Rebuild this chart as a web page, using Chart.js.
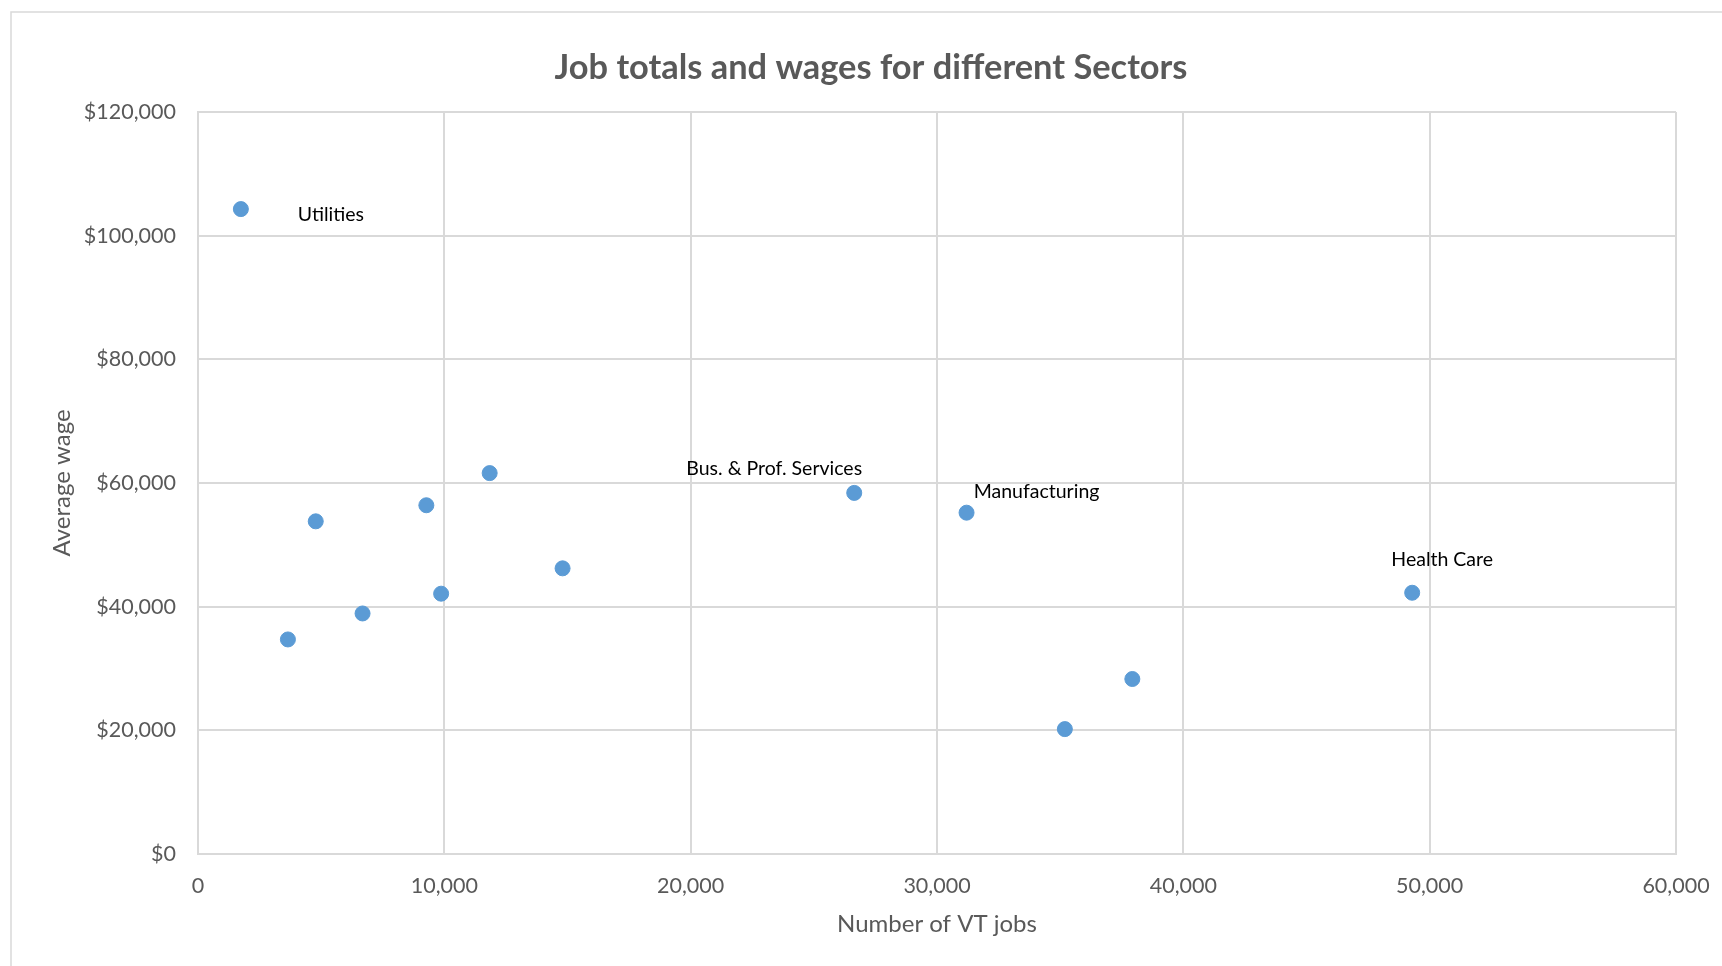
<!DOCTYPE html>
<html>
<head>
    <title>Job totals and wages for different Sectors</title>
    <script src="https://cdn.jsdelivr.net/npm/chart.js"></script>
    <style>
        body { margin: 0; background: #fff; }
        canvas { display: block; }
    </style>
</head>
<body>
    <canvas id="jobsChart" width="1722" height="966"></canvas>

    <script>
        // one point per sector
        const vtJobs = [1740, 3650, 4780, 6680, 9270, 9870, 11840, 14800, 26640, 31200, 35190, 37930, 49290];
        const avgWages = [104300, 34700, 53800, 38900, 56400, 42100, 61600, 46200, 58400, 55200, 20200, 28300, 42250];
        const sectorLabels = ['Utilities', '', '', '', '', '', '', '', 'Bus. & Prof. Services', 'Manufacturing', '', '', 'Health Care'];

        const xTicks = [0, 10000, 20000, 30000, 40000, 50000, 60000];
        const yTicks = [0, 20000, 40000, 60000, 80000, 100000, 120000];

        const chartTitle = 'Job totals and wages for different Sectors';

        const FONT = 'Lato, "Open Sans", sans-serif';
        const GREY_TEXT = '#595959';
        const GRID = '#d9d9d9';

        // where each data label sits relative to its point (Excel manual placement)
        const labelOffsets = {
            'Utilities': [90, 6],
            'Bus. & Prof. Services': [-80, -24],
            'Manufacturing': [70, -21],
            'Health Care': [30, -33]
        };

        const pointLabelPlugin = {
            id: 'pointLabels',
            afterDatasetsDraw(chart) {
                const ctx = chart.ctx;
                const meta = chart.getDatasetMeta(0);
                ctx.save();
                ctx.font = '19.5px ' + FONT;
                ctx.fillStyle = '#000';
                ctx.textAlign = 'center';
                ctx.textBaseline = 'middle';
                meta.data.forEach((pt, i) => {
                    const text = sectorLabels[i];
                    if (!text) return;
                    const off = labelOffsets[text] || [0, -20];
                    ctx.fillText(text, pt.x + off[0], pt.y + off[1]);
                });
                ctx.restore();
            }
        };

        // Excel frame round the chart area plus the title (title is not centred on the canvas)
        const framePlugin = {
            id: 'frame',
            beforeDraw(chart) {
                const ctx = chart.ctx;
                ctx.save();
                ctx.fillStyle = '#fff';
                ctx.fillRect(0, 0, chart.width, chart.height);
                ctx.strokeStyle = GRID;
                ctx.lineWidth = 1.5;
                ctx.strokeRect(11, 12, chart.width + 20, chart.height + 20);
                ctx.font = 'bold 34.4px ' + FONT;
                ctx.fillStyle = GREY_TEXT;
                ctx.textAlign = 'center';
                ctx.textBaseline = 'middle';
                ctx.fillText(chartTitle, 871, 68);
                ctx.restore();
            }
        };

        const points = vtJobs.map((x, i) => ({ x: x, y: avgWages[i] }));

        new Chart(document.getElementById('jobsChart'), {
            type: 'scatter',
            data: {
                datasets: [{
                    label: 'Sectors',
                    data: points,
                    backgroundColor: '#5b9bd5',
                    borderColor: '#5b9bd5',
                    pointRadius: 7.5,
                    pointHoverRadius: 7.5
                }]
            },
            options: {
                responsive: false,
                animation: false,
                layout: { padding: { left: 0, right: 46, top: 112, bottom: 0 } },
                plugins: {
                    legend: { display: false },
                    tooltip: { enabled: false },
                    title: { display: false }
                },
                scales: {
                    x: {
                        type: 'linear',
                        min: 0,
                        max: 60000,
                        afterBuildTicks: axis => { axis.ticks = xTicks.map(v => ({ value: v })); },
                        afterFit: axis => {
                            axis.height = 112;
                            axis.paddingLeft = 0;
                            axis.paddingRight = 0;
                        },
                        grid: { color: GRID, lineWidth: 2, drawTicks: false },
                        border: { color: GRID, width: 2 },
                        ticks: {
                            color: GREY_TEXT,
                            font: { family: FONT, size: 21.5 },
                            padding: 19,
                            maxRotation: 0,
                            callback: v => v.toLocaleString('en-US')
                        },
                        title: {
                            display: true,
                            text: 'Number of VT jobs',
                            color: GREY_TEXT,
                            font: { family: FONT, size: 24 },
                            padding: { top: 0, bottom: 27 }
                        }
                    },
                    y: {
                        type: 'linear',
                        min: 0,
                        max: 120000,
                        afterBuildTicks: axis => { axis.ticks = yTicks.map(v => ({ value: v })); },
                        afterFit: axis => {
                            axis.width = 198;
                            axis.paddingTop = 0;
                            axis.paddingBottom = 0;
                        },
                        grid: { color: GRID, lineWidth: 2, drawTicks: false },
                        border: { color: GRID, width: 2 },
                        ticks: {
                            color: GREY_TEXT,
                            font: { family: FONT, size: 21.5 },
                            padding: 22,
                            callback: v => '$' + v.toLocaleString('en-US')
                        },
                        title: {
                            display: true,
                            text: 'Average wage',
                            color: GREY_TEXT,
                            font: { family: FONT, size: 24 },
                            padding: { top: 48, bottom: 0 }
                        }
                    }
                }
            },
            plugins: [framePlugin, pointLabelPlugin]
        });
    </script>
</body>
</html>
